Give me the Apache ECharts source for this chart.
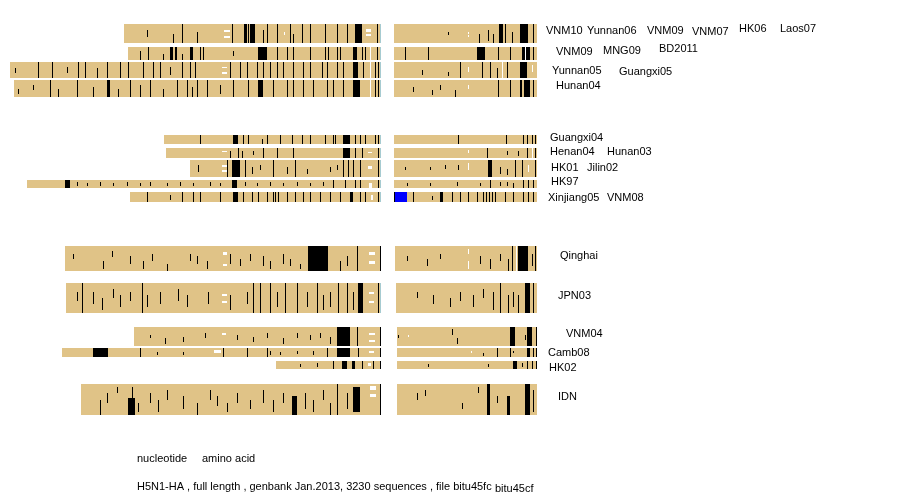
<!DOCTYPE html>
<html><head><meta charset="utf-8">
<script src="https://cdn.jsdelivr.net/npm/echarts@6/dist/echarts.min.js"></script>
<style>html,body{margin:0;padding:0;background:#fff}#c{width:900px;height:500px}</style>
</head><body><div id="c"></div>
<script>
// ---------- DATA ----------
const NT_LEN = 1707;   // HA nucleotide alignment length
const AA_LEN = 568;    // HA amino acid alignment length

const rowNames = ['VNM10 group','VNM09 group','Yunnan05 group','Hunan04','Guangxi04','Henan04 group','HK01 group','HK97','Xinjiang05 group','Qinghai','JPN03','VNM04','Camb08','HK02','IDN'];
// band of each clade on the sequence-track axis (thickness ~ number of sequences)
const rowBands = [[24,43],[47,60],[62,78],[80,97],[135,144],[148,158],[160,177],[180,188],[192,202],[246,271],[283,313],[327,346],[348,357],[361,369],[384,415]];
// first aligned position of each clade
const ntStart = [524,543,0,18,708,718,828,78,552,253,258,570,239,1224,327];
const aaStart = [0,0,0,0,0,0,0,0,0,4,8,12,12,12,12];

// marks: [from, to, colour k/w/b, fracTop, fracBottom]
const ntMarks = [
 [[630,630,'k',0.3,0.7],[750,750,'k',0.5,1],[791,791],[860,860,'k',0.4,1],[985,1010,'w',0.3,0.4],[985,1010,'w',0.62,0.72],[1021,1021],[1076,1090],[1095,1100],[1105,1125],[1164,1164,'k',0.3,1],[1182,1182],[1228,1228],[1262,1262,'w',0.4,0.6],[1288,1288],[1302,1302,'k',0.5,1],[1343,1343],[1380,1380],[1449,1449],[1504,1504],[1550,1550],[1587,1619],[1640,1660,'w',0.25,0.4],[1640,1660,'w',0.55,0.65],[1688,1688]],
 [[598,598,'k',0.3,1],[635,635],[704,704,'k',0.5,1],[736,750],[758,770],[791,791,'k',0.5,1],[828,842],[874,874],[888,888],[1026,1026,'k',0.3,0.7],[1141,1182],[1228,1228],[1274,1274],[1302,1302],[1380,1380],[1449,1449],[1463,1463],[1504,1504],[1518,1518],[1578,1596],[1619,1619],[1633,1633],[1656,1656,'w'],[1688,1688]],
 [[23,23,'k',0.4,0.7],[129,129],[193,193],[262,262,'k',0.3,0.7],[313,313],[345,345],[400,400,'k',0.4,1],[446,446],[506,506],[543,543],[612,612],[658,658],[690,690],[736,736,'k',0.3,0.8],[791,791],[828,828],[851,851],[975,1000,'w',0.3,0.4],[975,1000,'w',0.62,0.72],[1012,1012],[1058,1058],[1090,1090],[1136,1136],[1164,1164],[1196,1196],[1228,1228],[1256,1256],[1302,1302],[1348,1348],[1380,1380],[1435,1435],[1458,1458],[1504,1504],[1532,1532],[1578,1601],[1624,1624],[1656,1656,'w'],[1679,1679],[1693,1693]],
 [[37,37,'k',0.5,0.8],[106,106,'k',0.3,0.6],[184,184],[221,221,'k',0.5,1],[308,308],[382,382,'k',0.4,1],[446,460],[497,497,'k',0.5,1],[552,552],[598,598,'k',0.3,1],[644,644],[704,704,'k',0.5,1],[768,768],[814,814],[837,837,'k',0.4,1],[860,860],[906,906],[966,966,'k',0.3,0.8],[1026,1026],[1095,1095],[1141,1164],[1210,1210],[1274,1274],[1302,1302],[1348,1348],[1394,1394],[1458,1458],[1486,1486],[1532,1532],[1578,1610],[1656,1656,'w'],[1679,1679],[1693,1693]],
 [[874,874],[1026,1049],[1072,1072],[1095,1095],[1159,1159,'k',0.4,1],[1182,1182],[1242,1242],[1297,1297],[1343,1343],[1380,1380],[1449,1449],[1486,1486],[1495,1495],[1532,1564],[1587,1587],[1610,1610],[1633,1633],[1679,1679],[1693,1693]],
 [[975,1000,'w',0.25,0.4],[1012,1012,'k',0.3,1],[1049,1049],[1067,1067,'k',0.3,1],[1118,1118,'k',0.3,0.7],[1164,1164],[1228,1228],[1302,1302],[1532,1564],[1587,1587],[1619,1619],[1645,1665,'w',0.35,0.5],[1693,1693]],
 [[865,865,'k',0.3,0.7],[975,1000,'w',0.3,0.4],[975,1000,'w',0.6,0.7],[998,998],[1021,1058],[1081,1081],[1113,1113,'k',0.4,0.8],[1150,1150,'k',0.3,0.6],[1210,1210],[1274,1274,'k',0.4,0.8],[1311,1311],[1366,1366,'k',0.5,0.8],[1472,1472,'k',0.4,0.7],[1504,1504,'k',0.3,0.6],[1532,1532],[1555,1555],[1578,1578],[1610,1610],[1645,1665,'w',0.35,0.5],[1693,1693]],
 [[253,276],[308,308,'k',0.3,0.7],[354,354,'k',0.4,0.8],[414,414,'k',0.3,0.7],[474,474,'k',0.4,0.8],[538,538,'k',0.3,0.7],[598,598,'k',0.4,0.8],[644,644,'k',0.3,0.7],[722,722,'k',0.4,0.8],[782,782,'k',0.3,0.7],[842,842,'k',0.4,0.8],[920,920,'k',0.3,0.7],[966,966,'k',0.4,0.8],[1021,1044],[1081,1081,'k',0.3,0.7],[1136,1136,'k',0.4,0.8],[1196,1196,'k',0.3,0.7],[1256,1256,'k',0.4,0.8],[1320,1320,'k',0.3,0.7],[1380,1380,'k',0.4,0.8],[1440,1440,'k',0.3,0.7],[1486,1486],[1541,1541],[1587,1587],[1610,1610],[1650,1665,'w',0.4,1],[1693,1693]],
 [[630,630],[736,736,'k',0.3,0.8],[791,791],[842,842],[874,874],[966,966],[1026,1049],[1072,1072],[1113,1113],[1141,1141],[1182,1182],[1210,1210],[1221,1221],[1233,1233],[1274,1274],[1311,1311],[1348,1348],[1380,1380],[1426,1426],[1472,1472],[1518,1518],[1564,1578],[1610,1610],[1633,1633],[1660,1670,'w',0.25,0.75],[1693,1693]],
 [[290,290,'k',0.3,0.5],[428,428,'k',0.6,0.9],[469,469,'k',0.2,0.45],[552,552,'k',0.4,0.7],[612,612,'k',0.6,0.9],[653,653,'k',0.3,0.6],[722,722,'k',0.7,1],[828,828,'k',0.3,0.6],[860,860,'k',0.4,0.7],[906,906,'k',0.6,0.9],[980,1000,'w',0.25,0.35],[980,1000,'w',0.7,0.8],[1012,1012,'k',0.3,0.7],[1058,1058,'k',0.5,0.8],[1104,1104,'k',0.3,0.6],[1164,1164,'k',0.4,0.8],[1196,1196,'k',0.6,0.9],[1256,1256,'k',0.3,0.7],[1288,1288,'k',0.5,0.8],[1334,1334,'k',0.7,0.9],[1371,1463],[1518,1518,'k',0.6,1],[1550,1550,'k',0.4,0.8],[1596,1596],[1650,1680,'w',0.25,0.35],[1650,1680,'w',0.6,0.7],[1702,1702]],
 [[308,308,'k',0.3,0.6],[331,331],[382,382,'k',0.3,0.7],[423,423,'k',0.5,0.9],[474,474,'k',0.2,0.5],[506,506,'k',0.4,0.8],[552,552,'k',0.3,0.6],[607,607],[630,630,'k',0.4,0.8],[690,690,'k',0.3,0.7],[773,773,'k',0.2,0.6],[814,814,'k',0.4,0.8],[911,911,'k',0.3,0.7],[975,1000,'w',0.35,0.42],[975,1000,'w',0.6,0.67],[1012,1012,'k',0.4,0.9],[1090,1090,'k',0.3,0.7],[1118,1118],[1150,1150],[1196,1196],[1228,1228,'k',0.3,0.8],[1265,1265],[1320,1320],[1366,1366,'k',0.3,0.8],[1412,1412],[1440,1440,'k',0.4,0.9],[1472,1472,'k',0.3,0.8],[1509,1509],[1550,1550],[1578,1578,'k',0.3,0.9],[1601,1624],[1650,1675,'w',0.3,0.37],[1650,1675,'w',0.6,0.67],[1693,1693]],
 [[644,644,'k',0.4,0.6],[713,713,'k',0.6,0.9],[796,796,'k',0.5,0.8],[897,897,'k',0.3,0.6],[975,995,'w',0.3,0.4],[1044,1044,'k',0.4,0.7],[1118,1118,'k',0.5,0.8],[1182,1182,'k',0.3,0.6],[1256,1256,'k',0.6,0.9],[1320,1320,'k',0.3,0.6],[1380,1380,'k',0.4,0.7],[1426,1426,'k',0.3,0.6],[1472,1472,'k',0.5,0.9],[1504,1564],[1596,1596],[1650,1680,'w',0.3,0.4],[1650,1680,'w',0.7,0.8],[1702,1702]],
 [[382,451],[598,598],[676,676,'k',0.4,0.8],[796,796,'k',0.4,0.8],[940,970,'w',0.25,0.5],[980,980],[1090,1090],[1182,1182],[1196,1196,'k',0.3,0.8],[1242,1242,'k',0.4,0.8],[1320,1320,'k',0.3,0.7],[1394,1394,'k',0.3,0.8],[1458,1458],[1504,1564],[1601,1601],[1650,1675,'w',0.3,0.5],[1702,1702]],
 [[1334,1334,'k',0.4,0.8],[1412,1412,'k',0.3,0.7],[1486,1486],[1527,1550],[1573,1587],[1619,1619],[1645,1660,'w',0.3,0.6],[1670,1670],[1702,1702]],
 [[414,414,'k',0.5,1],[446,446,'k',0.3,0.6],[492,492,'k',0.1,0.3],[543,575,'k',0.45,1],[560,566,'k',0.1,0.45],[589,589,'k',0.6,0.9],[644,644,'k',0.3,0.6],[681,681,'k',0.5,0.9],[722,722,'k',0.2,0.5],[796,796,'k',0.4,0.8],[860,860,'k',0.6,1],[920,920,'k',0.2,0.5],[952,952,'k',0.4,0.7],[998,998,'k',0.6,0.9],[1044,1044,'k',0.3,0.6],[1104,1104,'k',0.5,0.8],[1164,1164,'k',0.2,0.6],[1210,1210,'k',0.5,0.9],[1256,1256,'k',0.3,0.6],[1297,1320,'k',0.4,1],[1357,1357,'k',0.3,0.8],[1394,1394,'k',0.5,0.9],[1440,1440,'k',0.2,0.5],[1472,1472,'k',0.6,1],[1504,1504],[1550,1550,'k',0.3,0.8],[1578,1610,'k',0.1,0.9],[1655,1685,'w',0.08,0.18],[1655,1685,'w',0.32,0.42],[1702,1702]]
];

const aaMarks = [
 [[214,214,'k',0.4,0.6],[292,296,'w',0.4,0.5],[292,296,'w',0.6,0.7],[337,337,'k',0.5,1],[373,373,'k',0.3,0.9],[393,393,'k',0.5,1],[417,433],[441,441],[468,468,'k',0.4,1],[500,532],[552,552]],
 [[44,44],[135,135],[330,361],[413,413],[460,460],[508,540],[520,524,'w'],[552,552]],
 [[111,111,'k',0.5,0.8],[214,214,'k',0.6,0.9],[262,262],[294,298,'w',0.3,0.6],[349,349],[381,381],[409,409,'k',0.4,1],[428,428,'w'],[449,449],[500,528],[548,552,'w',0.2,0.6]],
 [[75,75,'k',0.4,0.7],[151,151,'k',0.6,0.9],[183,183,'k',0.3,0.6],[242,242,'k',0.6,1],[294,298,'w',0.3,0.5],[413,413],[460,460],[500,510],[516,540],[552,552]],
 [[254,254],[445,445],[512,512],[528,528],[548,548],[560,560]],
 [[294,298,'w',0.2,0.5],[369,369],[449,449,'k',0.3,0.7],[492,492,'k',0.3,0.8],[528,528],[550,550,'w'],[560,560]],
 [[44,44,'k',0.4,0.6],[143,143,'k',0.4,0.6],[202,202,'k',0.3,0.5],[254,254,'k',0.3,0.6],[294,298,'w',0.2,0.6],[373,389],[421,421,'k',0.4,0.8],[449,449,'k',0.5,0.9],[480,480],[508,508],[534,534,'w',0.3,0.7],[560,560]],
 [[52,52,'k',0.4,0.7],[143,143,'k',0.4,0.7],[250,250,'k',0.3,0.7],[341,341,'k',0.4,0.8],[381,381],[421,421,'k',0.3,0.8],[449,449,'k',0.3,0.8],[472,472,'k',0.4,1],[512,512],[532,532],[552,552]],
 [[0,0],[2,50,'b'],[75,75],[151,151,'k',0.4,0.8],[183,195],[230,230],[262,262],[294,294],[330,330],[353,353],[365,365],[377,377],[389,389],[401,401],[441,441],[472,472],[512,512],[532,532],[552,552]],
 [[52,52,'k',0.4,0.6],[131,131,'k',0.5,0.8],[183,183,'k',0.3,0.5],[292,296,'w',0.1,0.3],[292,296,'w',0.6,0.9],[341,341,'k',0.4,0.7],[381,381,'k',0.5,0.9],[421,421,'k',0.3,0.6],[453,453,'k',0.5,1],[468,468],[484,484,'w'],[492,532],[548,548,'k',0.3,0.8],[560,560]],
 [[91,91,'k',0.3,0.5],[155,155,'k',0.4,0.7],[222,222,'k',0.5,0.8],[262,262,'k',0.3,0.6],[314,314,'k',0.4,0.8],[353,353,'k',0.2,0.5],[393,393,'k',0.3,0.9],[421,421],[453,453,'k',0.4,1],[472,472,'k',0.3,0.8],[492,492,'k',0.4,1],[520,540],[552,552]],
 [[16,16,'k',0.4,0.6],[56,56,'w',0.4,0.5],[230,230,'k',0.1,0.4],[250,250,'k',0.6,0.9],[460,480],[520,520,'k',0.4,0.7],[528,548],[566,566]],
 [[306,310,'w',0.3,0.6],[353,353,'k',0.5,0.9],[409,413],[460,460],[472,472,'k',0.3,0.6],[528,540],[552,552],[566,566]],
 [[135,135,'k',0.4,0.7],[373,373,'k',0.4,0.8],[472,488],[508,508,'k',0.3,0.8],[528,528],[548,548],[566,566]],
 [[91,91,'k',0.3,0.5],[123,123,'k',0.2,0.4],[270,270,'k',0.6,0.8],[333,333,'k',0.1,0.3],[369,381],[409,409,'k',0.4,0.6],[449,460,'k',0.4,1],[520,540],[552,552,'k',0.2,0.9]]
];

// text labels: [text, x, y]
const labels = [
 ['VNM10',546,31],['Yunnan06',587,31],['VNM09',647,31],['VNM07',692,32],['HK06',739,29],['Laos07',780,29],
 ['VNM09',556,52],['MNG09',603,51],['BD2011',659,49],
 ['Yunnan05',552,71],['Guangxi05',619,72],
 ['Hunan04',556,86],
 ['Guangxi04',550,138],['Henan04',550,152],['Hunan03',607,152],['HK01',551,168],['Jilin02',587,168],['HK97',551,182],['Xinjiang05',548,198],['VNM08',607,198],
 ['Qinghai',560,256],['JPN03',558,296],['VNM04',566,334],['Camb08',548,353],['HK02',549,368],['IDN',558,397],
 ['nucleotide',137,459],['amino acid',202,459],
 ['H5N1-HA , full length , genbank Jan.2013, 3230 sequences , file bitu45fc',137,487],['bitu45cf',495,489]
];

// ---------- STYLE ----------
const TAN = '#E0C387', END_LINE = '#A6CBD1';
const FILLS = [TAN, '#000000', '#ffffff', '#0000ff'];
const FONT = '11px "Liberation Sans", Arial, sans-serif';

function buildItems(starts, marks, len){
  const out = [];
  rowNames.forEach((n, i) => {
    const t = rowBands[i][0], b = rowBands[i][1];
    out.push([starts[i], len, t, b, 0]);
    marks[i].forEach(m => {
      const c = m[2] || 'k';
      const f0 = m[3] === undefined ? 0 : m[3];
      const f1 = m[4] === undefined ? 1 : m[4];
      out.push([m[0], m[1], t + f0 * (b - t), t + f1 * (b - t), c === 'k' ? 1 : (c === 'w' ? 2 : 3)]);
    });
  });
  return out;
}

function makeRender(endLine){
  return function(params, api){
    const s = api.value(0), e = api.value(1), y0 = api.value(2), y1 = api.value(3), k = api.value(4);
    const p0 = api.coord([s, y0]), p1 = api.coord([e, y1]);
    const x = Math.round(p0[0]), y = Math.round(p0[1]);
    const w = Math.max(1, Math.round(p1[0]) - x), h = Math.max(1, Math.round(p1[1]) - y);
    if (k === 0) {
      const children = [{type:'rect', shape:{x:x, y:y, width:w, height:h}, style:{fill:TAN}}];
      if (endLine) children.push({type:'rect', shape:{x:x + w - 1, y:y, width:1, height:h}, style:{fill:END_LINE}});
      return {type:'group', children: children};
    }
    return {type:'rect', shape:{x:x, y:y, width:w, height:h}, style:{fill:FILLS[k]}};
  };
}

const chart = echarts.init(document.getElementById('c'), null, {renderer:'canvas'});
chart.setOption({
  animation: false,
  backgroundColor: '#ffffff',
  grid: [
    {left:10, width:371, top:0, height:500, outerBoundsMode:'none', containLabel:false},
    {left:394, width:143, top:0, height:500, outerBoundsMode:'none', containLabel:false}
  ],
  xAxis: [
    {type:'value', gridIndex:0, min:0, max:NT_LEN, show:false},
    {type:'value', gridIndex:1, min:0, max:AA_LEN, show:false}
  ],
  yAxis: [
    {type:'value', gridIndex:0, min:0, max:500, inverse:true, show:false},
    {type:'value', gridIndex:1, min:0, max:500, inverse:true, show:false}
  ],
  series: [
    {type:'custom', xAxisIndex:0, yAxisIndex:0, silent:true, renderItem:makeRender(true),
     encode:{x:[0,1], y:[2,3]}, data: buildItems(ntStart, ntMarks, NT_LEN)},
    {type:'custom', xAxisIndex:1, yAxisIndex:1, silent:true, renderItem:makeRender(false),
     encode:{x:[0,1], y:[2,3]}, data: buildItems(aaStart, aaMarks, AA_LEN)}
  ],
  graphic: labels.map(l => ({
    type:'text', x:l[1], y:l[2], silent:true,
    style:{text:l[0], fill:'#000', font:FONT, verticalAlign:'middle', align:'left'}
  }))
});
</script>
</body></html>
